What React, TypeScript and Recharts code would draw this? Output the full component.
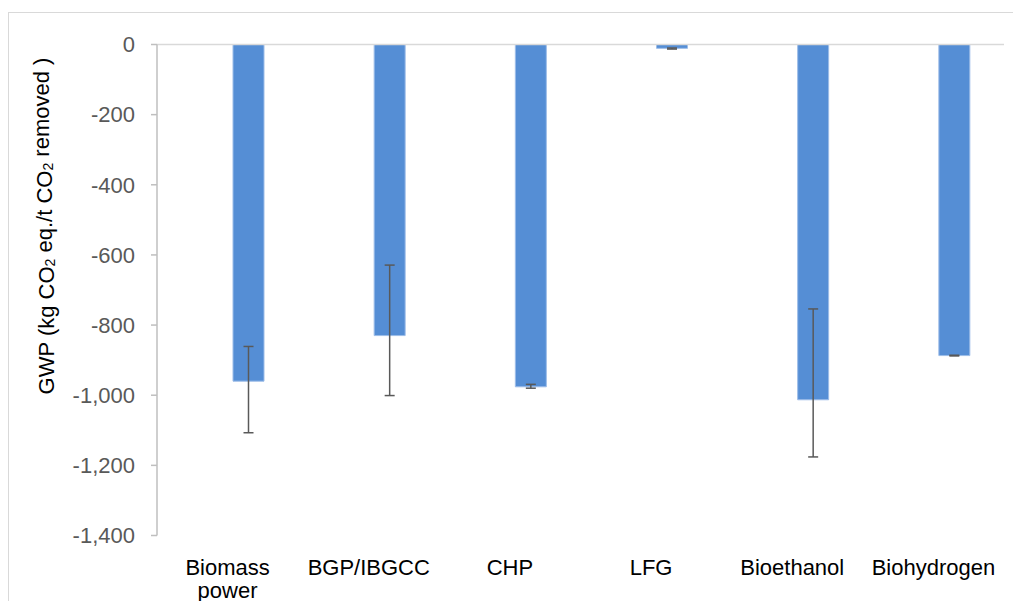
import { BarChart, Bar, XAxis, YAxis, ErrorBar, ReferenceLine } from "recharts";

const categories = ["Biomass power", "BGP/IBGCC", "CHP", "LFG", "Bioethanol", "Biohydrogen"];
const gwp = [-960, -830, -976, -11, -1013, -887];
// error bar reach below (more negative) and above each bar value
const errBelow = [147, 171, 4, 2, 163, 1];
const errAbove = [99, 201, 7, 1, 259, 1];
const yTicks = [0, -200, -400, -600, -800, -1000, -1200, -1400];

const FONT = "'Liberation Sans', Arial, sans-serif";

const data = categories.map((name, i) => ({
  name,
  empty: null, // unused first series slot, keeps bars right of the label
  gwp: gwp[i],
  err: [errBelow[i], errAbove[i]],
}));

// two-word labels go on two lines
const CategoryTick = (props: any) => {
  const { x, y, payload } = props;
  const lines = String(payload.value).split(" ");
  return (
    <text x={x} y={y} textAnchor="middle" fill="#000" fontSize={22} fontFamily={FONT}>
      {lines.map((line, i) => (
        <tspan key={i} x={x} dy={i === 0 ? 17 : 23}>
          {line}
        </tspan>
      ))}
    </text>
  );
};

const AxisTitle = () => (
  <text
    transform="translate(46, 226) rotate(-90)"
    textAnchor="middle"
    dominantBaseline="central"
    fontSize={22}
    fontFamily={FONT}
    fill="#000"
  >
    GWP (kg CO
    <tspan dy="0.3em" fontSize={14}>2</tspan>
    <tspan dy="-0.3em"> eq./t CO</tspan>
    <tspan dy="0.3em" fontSize={14}>2</tspan>
    <tspan dy="-0.3em"> removed )</tspan>
  </text>
);

export default function App() {
  return (
    <div style={{ position: "absolute", left: 0, top: 0, width: 1013, height: 601, overflow: "hidden", background: "#fff" }}>
      <div
        style={{
          position: "absolute",
          left: 8,
          top: 12,
          width: 1100,
          height: 700,
          border: "1.5px solid #d9d9d9",
        }}
      />
      <div style={{ position: "absolute", left: 0, top: 0 }}>
        <BarChart
          width={1013}
          height={601}
          data={data}
          margin={{ top: 44.5, right: 9, bottom: 0, left: 0 }}
          barSize={31}
          barGap={10}
        >
          <XAxis
            dataKey="name"
            height={65.5}
            axisLine={false}
            tickLine={false}
            tickSize={0}
            tickMargin={22}
            interval={0}
            tick={<CategoryTick />}
          />
          <YAxis
            width={157}
            domain={[-1400, 0]}
            ticks={yTicks}
            allowDataOverflow
            axisLine={{ stroke: "#bfbfbf", strokeWidth: 1.5 }}
            tickLine={{ stroke: "#bfbfbf", strokeWidth: 1.5 }}
            tickSize={6}
            tickMargin={16}
            tick={{ fill: "#595959", fontSize: 22, fontFamily: FONT }}
            tickFormatter={(v: number) => v.toLocaleString("en-US")}
            label={<AxisTitle />}
          />
          <ReferenceLine y={0} stroke="#d9d9d9" strokeWidth={1.5} />
          <Bar dataKey="empty" fill="none" isAnimationActive={false} legendType="none" />
          <Bar dataKey="gwp" fill="#558ed5" stroke="#9dbde8" strokeWidth={1} isAnimationActive={false}>
            <ErrorBar dataKey="err" width={5} stroke="#595959" strokeWidth={1.5} direction="y" />
          </Bar>
        </BarChart>
      </div>
    </div>
  );
}
